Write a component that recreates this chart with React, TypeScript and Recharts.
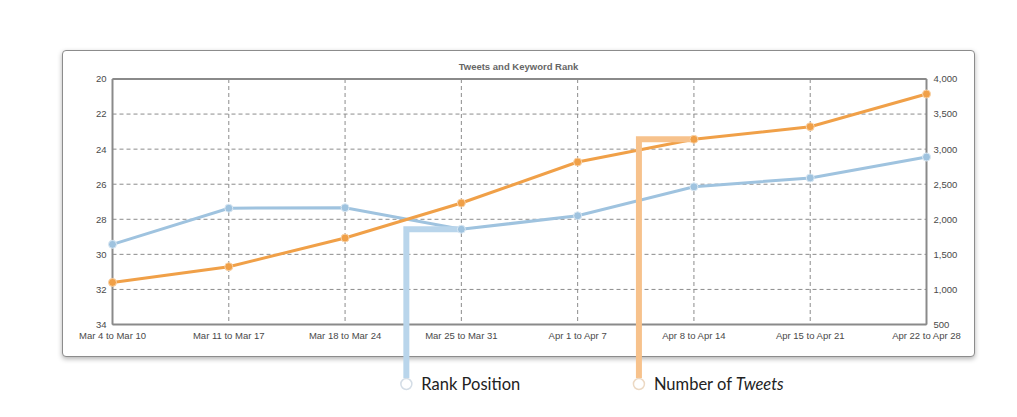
import { LineChart, Line, XAxis, YAxis, CartesianGrid, ReferenceLine } from 'recharts'

const weeks = [
  'Mar 4 to Mar 10',
  'Mar 11 to Mar 17',
  'Mar 18 to Mar 24',
  'Mar 25 to Mar 31',
  'Apr 1 to Apr 7',
  'Apr 8 to Apr 14',
  'Apr 15 to Apr 21',
  'Apr 22 to Apr 28',
]
const rankPosition = [29.43, 27.37, 27.34, 28.57, 27.8, 26.15, 25.64, 24.45]
const tweetCount = [1100, 1324, 1733, 2232, 2817, 3140, 3320, 3786]
const rankTicks = [20, 22, 24, 26, 28, 30, 32, 34]
const tweetTicks = [500, 1000, 1500, 2000, 2500, 3000, 3500, 4000]

// which point each legend callout hooks onto
const rankCalloutIndex = 3
const tweetCalloutIndex = 5

const data = weeks.map((week, i) => ({ week, rank: rankPosition[i], tweets: tweetCount[i] }))

const BLUE = '#9fc3df'
const ORANGE = '#f0a048'
const LEGEND_Y = 376

const tickStyle = { fontSize: 9.5, fill: '#4a4a4a', fontFamily: 'Liberation Sans, Arial, sans-serif' }

function makeCallout(idx: number, color: string, circleStroke: string, label: React.ReactNode) {
  return (props: any) => {
    const { cx, cy, index } = props
    if (index !== idx || cx == null) return <g key={`co-${index}`} />
    const x = cx - 55
    return (
      <g key={`co-${index}`}>
        <path
          d={`M${cx},${cy} L${x},${cy} L${x},${LEGEND_Y - 6}`}
          fill="none"
          stroke={color}
          strokeWidth={6}
          strokeLinejoin="miter"
        />
        <circle cx={x} cy={LEGEND_Y} r={5.5} fill="#fff" stroke={circleStroke} strokeWidth={1.5} />
        <text
          x={x + 15}
          y={LEGEND_Y}
          dy="0.36em"
          fontSize={16.5}
          fill="#222"
          fontFamily="Lato, 'Open Sans', sans-serif"
        >
          {label}
        </text>
      </g>
    )
  }
}

const rankCallout = makeCallout(rankCalloutIndex, '#b9d5eb', '#d4dde6', 'Rank Position')
const tweetCallout = makeCallout(
  tweetCalloutIndex,
  '#f7c28c',
  '#ecd9c4',
  <>
    Number of <tspan fontStyle="italic">Tweets</tspan>
  </>
)

export default function App() {
  return (
    <div style={{ position: 'relative', width: 1001, height: 401 }}>
      <div
        style={{
          position: 'absolute',
          left: 54,
          top: 42,
          width: 913,
          height: 307,
          boxSizing: 'border-box',
          border: '1px solid #8c8c8c',
          borderRadius: 4,
          boxShadow: '0 2px 5px rgba(0,0,0,0.3)',
          background: '#fff',
        }}
      >
        <div
          style={{
            position: 'absolute',
            top: 10,
            left: 0,
            width: '100%',
            textAlign: 'center',
            fontFamily: 'Liberation Sans, Arial, sans-serif',
            fontWeight: 'bold',
            fontSize: 9.5,
            color: '#666',
          }}
        >
          Tweets and Keyword Rank
        </div>
      </div>
      <div style={{ position: 'absolute', left: 0, top: 0 }}>
        <LineChart width={1001} height={401} data={data} margin={{ top: 71, right: 0, left: 0, bottom: 64.5 }}>
          <CartesianGrid yAxisId="left" stroke="#8c8c8c" strokeDasharray="4 3" />
          <XAxis
            dataKey="week"
            tick={tickStyle}
            tickLine={false}
            tickSize={0}
            tickMargin={8}
            axisLine={{ stroke: '#8a8a8a', strokeWidth: 2 }}
            interval={0}
            height={20}
          />
          <YAxis
            yAxisId="left"
            domain={[20, 34]}
            reversed
            ticks={rankTicks}
            tick={tickStyle}
            tickLine={false}
            tickSize={0}
            tickMargin={6}
            axisLine={{ stroke: '#8a8a8a', strokeWidth: 2 }}
            width={104.5}
            interval={0}
          />
          <YAxis
            yAxisId="right"
            orientation="right"
            domain={[500, 4000]}
            ticks={tweetTicks}
            tick={tickStyle}
            tickLine={false}
            tickSize={0}
            tickMargin={7}
            tickFormatter={(v: number) => v.toLocaleString('en-US')}
            axisLine={{ stroke: '#8a8a8a', strokeWidth: 2 }}
            width={82.5}
            interval={0}
          />
          <ReferenceLine yAxisId="left" y={20} stroke="#8a8a8a" strokeWidth={2} />
          <Line
            yAxisId="left"
            dataKey="rank"
            stroke="none"
            dot={rankCallout}
            activeDot={false}
            isAnimationActive={false}
          />
          <Line
            yAxisId="right"
            dataKey="tweets"
            stroke="none"
            dot={tweetCallout}
            activeDot={false}
            isAnimationActive={false}
          />
          <Line
            yAxisId="left"
            dataKey="rank"
            stroke={BLUE}
            strokeWidth={3}
            dot={{ r: 4, fill: BLUE, stroke: '#dbe9f4', strokeWidth: 1 }}
            activeDot={false}
            isAnimationActive={false}
          />
          <Line
            yAxisId="right"
            dataKey="tweets"
            stroke={ORANGE}
            strokeWidth={3}
            dot={{ r: 4, fill: ORANGE, stroke: '#f9d3a8', strokeWidth: 1 }}
            activeDot={false}
            isAnimationActive={false}
          />
        </LineChart>
      </div>
    </div>
  )
}
